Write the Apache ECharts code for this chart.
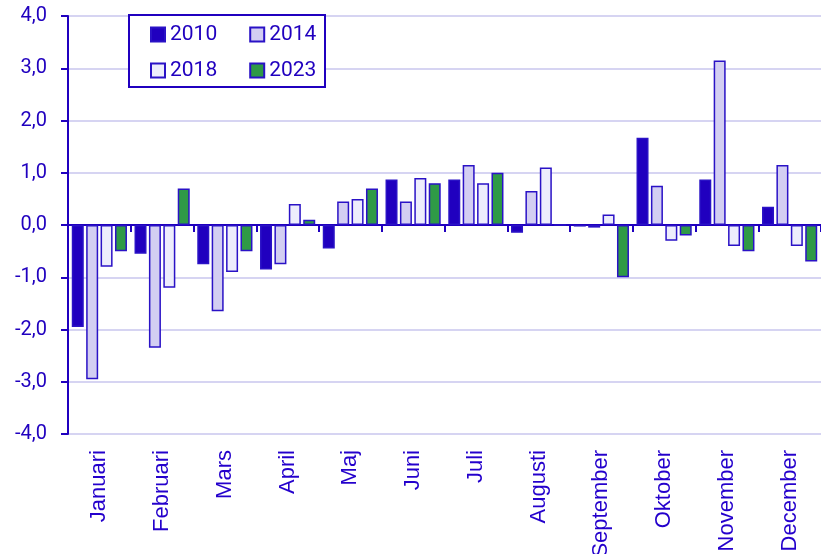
<!DOCTYPE html>
<html>
<head>
<meta charset="utf-8">
<title>Förändring per månad</title>
<script src="https://cdn.jsdelivr.net/npm/echarts@6/dist/echarts.min.js"></script>
<style>
    html, body { margin: 0; padding: 0; background: #ffffff; }
    #chart { width: 821px; height: 554px; }
</style>
</head>
<body>
<div id="chart"></div>
<script>
// månader och år
var months = ['Januari', 'Februari', 'Mars', 'April', 'Maj', 'Juni', 'Juli', 'Augusti', 'September', 'Oktober', 'November', 'December'];
var years = ['2010', '2014', '2018', '2023'];

// värden
var v2010 = [-1.95, -0.55, -0.75, -0.85, -0.45, 0.87, 0.87, -0.15, -0.03, 1.67, 0.87, 0.35];
var v2014 = [-2.95, -2.35, -1.65, -0.75, 0.45, 0.45, 1.15, 0.65, -0.05, 0.75, 3.15, 1.15];
var v2018 = [-0.8, -1.2, -0.9, 0.4, 0.5, 0.9, 0.8, 1.1, 0.2, -0.3, -0.4, -0.4];
var v2023 = [-0.5, 0.7, -0.5, 0.1, 0.7, 0.8, 1.0, 0, -1.0, -0.2, -0.5, -0.7];

var yTicks = [-4, -3, -2, -1, 0, 1, 2, 3, 4];

var blue = '#2000bf';
var fills = ['#2000bf', '#d3cef2', '#ededfc', '#2f9a46'];

var chart = echarts.init(document.getElementById('chart'));

function bar(name, data, idx) {
    return {
        name: name,
        type: 'bar',
        xAxisIndex: 0,
        data: data,
        barWidth: 12,
        barGap: '20%',
        itemStyle: {
            color: fills[idx],
            borderColor: '#2a12c6',
            borderWidth: 1.5
        }
    };
}

var legendText = { fontFamily: 'Roboto', fontSize: 21, color: blue };

var option = {
    backgroundColor: '#ffffff',
    animation: false,
    textStyle: { fontFamily: 'Roboto', color: blue },
    grid: { left: 68, right: 0, top: 16, bottom: 120, containLabel: false, outerBoundsMode: 'none' },
    graphic: [{
        type: 'rect',
        z: 50,
        shape: { x: 129, y: 15, width: 196, height: 72 },
        style: { fill: '#ffffff', stroke: blue, lineWidth: 2 }
    }],
    legend: [{
        data: [years[0], years[1]],
        left: 150, top: 24,
        z: 60,
        padding: 0,
        icon: 'rect',
        itemWidth: 14, itemHeight: 14, itemGap: 32,
        textStyle: legendText
    }, {
        data: [years[2], years[3]],
        left: 150, top: 60,
        z: 60,
        padding: 0,
        icon: 'rect',
        itemWidth: 14, itemHeight: 14, itemGap: 32,
        textStyle: legendText
    }],
    xAxis: [{
        type: 'category',
        data: months,
        position: 'bottom',
        axisLine: { show: false, onZero: false },
        axisTick: { show: false },
        axisLabel: {
            rotate: 90,
            interval: 0,
            margin: 16,
            fontFamily: 'Liberation Sans',
            fontSize: 22,
            color: '#2400cc'
        }
    }, {
        // nollinjen med streck mellan månaderna
        type: 'category',
        data: months,
        position: 'bottom',
        axisLine: { onZero: true, lineStyle: { color: blue, width: 2 } },
        axisTick: { show: true, interval: 0, length: 7, lineStyle: { color: blue, width: 2 } },
        axisLabel: { show: false }
    }],
    yAxis: {
        type: 'value',
        min: yTicks[0],
        max: yTicks[yTicks.length - 1],
        interval: 1,
        axisLine: { show: true, lineStyle: { color: blue, width: 2 } },
        axisTick: { show: true, length: 7, lineStyle: { color: blue, width: 2 } },
        splitLine: { lineStyle: { color: '#d6d4f2', width: 2 } },
        axisLabel: {
            margin: 21,
            fontFamily: 'Roboto',
            fontSize: 20,
            color: blue,
            formatter: function (v) {
                return v.toFixed(1).replace('.', ',');
            }
        }
    },
    series: [
        bar(years[0], v2010, 0),
        bar(years[1], v2014, 1),
        bar(years[2], v2018, 2),
        bar(years[3], v2023, 3)
    ]
};

chart.setOption(option);
</script>
</body>
</html>
